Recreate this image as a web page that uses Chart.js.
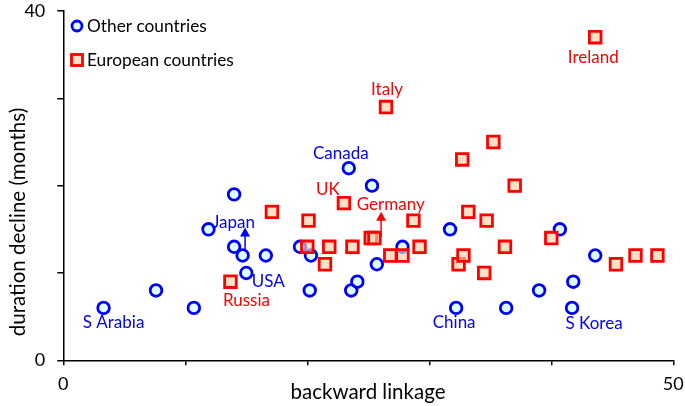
<!DOCTYPE html>
<html>
<head>
<meta charset="utf-8">
<script src="https://cdn.jsdelivr.net/npm/chart.js@4.4.0/dist/chart.umd.min.js"></script>
<style>
  html, body { margin: 0; padding: 0; background: #fff; }
</style>
</head>
<body>
<canvas id="grafico" width="685" height="406"></canvas>
<script>
// Otros paises (circulos azules)
const otrosX = [3.3, 7.6, 10.7, 11.9, 14.0, 14.0, 14.7, 15.0, 16.6, 19.4, 20.3, 20.2, 23.4,
  25.3, 23.6, 24.1, 25.7, 27.8, 31.7, 32.2, 36.3, 39.0, 40.7, 41.8, 41.7, 43.6];
const otrosY = [6, 8, 6, 15, 19, 13, 12, 10, 12, 13, 12, 8, 22,
  20, 8, 9, 11, 13, 15, 6, 6, 8, 15, 9, 6, 12];
const otrosNombres = ['S Arabia', '', '', '', '', '', 'Japan', 'USA', '', '', '', '', 'Canada',
  '', '', '', '', '', '', 'China', '', '', '', '', 'S Korea', ''];

// Paises europeos (cuadrados rojos)
const eurosX = [13.7, 17.1, 20.1, 20.0, 21.8, 21.45, 23.0, 23.7, 25.2, 25.5, 26.8, 27.8, 26.45,
  28.7, 29.2, 32.7, 33.2, 32.4, 32.8, 34.7, 34.5, 35.25, 36.2, 37.0, 40.0, 43.6, 45.3, 46.9, 48.7];
const eurosY = [9, 17, 16, 13, 13, 11, 18, 13, 14, 14, 12, 12, 29,
  16, 13, 23, 17, 11, 12, 16, 10, 25, 13, 20, 14, 37, 11, 12, 12];
const eurosNombres = ['Russia', '', '', '', '', '', 'UK', '', 'Germany', '', '', '', 'Italy',
  '', '', '', '', '', '', '', '', '', '', '', '', 'Ireland', '', '', ''];

const seriesNombres = ['Other countries', 'European countries'];
const xEtiquetas = [0, 50];
const yEtiquetas = [0, 40];

// flechas (Japan, Germany)
const flechaX = [14.9, 26.05];
const flechaDesde = [12.5, 14.1];
const flechaHasta = [15.2, 17.0];

const AZUL = '#0000ff';
const ROJO = '#ff0000';
const FUENTE = 'Lato, "DejaVu Sans", sans-serif';

// desplazamiento del texto respecto al punto (px)
const posEtiquetas = {
  'S Arabia': [10, 15], 'Japan': [-9, -33], 'USA': [22, 9], 'Canada': [-8, -15],
  'China': [-2, 14.5], 'S Korea': [22, 16],
  'Russia': [16, 19], 'UK': [-16, -14], 'Germany': [20, -34], 'Italy': [1, -18], 'Ireland': [-2, 20]
};

const otros = otrosX.map((x, i) => ({ x, y: otrosY[i] }));
const euros = eurosX.map((x, i) => ({ x, y: eurosY[i] }));

const textos = {
  id: 'textos',
  afterDraw(chart) {
    const ctx = chart.ctx;
    const sx = chart.scales.x, sy = chart.scales.y;
    ctx.save();

    // titulos de ejes
    ctx.fillStyle = '#000';
    ctx.font = '20.5px ' + FUENTE;
    ctx.textAlign = 'center';
    ctx.textBaseline = 'middle';
    ctx.fillText('backward linkage', 368, 392);
    ctx.save();
    ctx.translate(18, 222);
    ctx.rotate(-Math.PI / 2);
    ctx.fillText('duration decline (months)', 0, 0);
    ctx.restore();

    // etiquetas de paises
    ctx.font = '17px ' + FUENTE;
    const etiquetar = (nombres, xs, ys, color) => {
      ctx.fillStyle = color;
      nombres.forEach((n, i) => {
        if (!n) return;
        const d = posEtiquetas[n];
        ctx.fillText(n, sx.getPixelForValue(xs[i]) + d[0], sy.getPixelForValue(ys[i]) + d[1]);
      });
    };
    etiquetar(otrosNombres, otrosX, otrosY, AZUL);
    etiquetar(eurosNombres, eurosX, eurosY, ROJO);

    // flechas
    [AZUL, ROJO].forEach((color, i) => {
      const px = sx.getPixelForValue(flechaX[i]);
      const y0 = sy.getPixelForValue(flechaDesde[i]);
      const y1 = sy.getPixelForValue(flechaHasta[i]);
      ctx.strokeStyle = color;
      ctx.fillStyle = color;
      ctx.lineWidth = 1.5;
      ctx.beginPath();
      ctx.moveTo(px, y0);
      ctx.lineTo(px, y1 + 8);
      ctx.stroke();
      ctx.beginPath();
      ctx.moveTo(px, y1);
      ctx.lineTo(px - 5, y1 + 9);
      ctx.lineTo(px + 5, y1 + 9);
      ctx.closePath();
      ctx.fill();
    });

    // leyenda
    ctx.lineWidth = 2.8;
    ctx.strokeStyle = AZUL;
    ctx.fillStyle = 'rgba(200, 255, 255, 0.6)';
    ctx.beginPath();
    ctx.arc(77, 26, 5, 0, Math.PI * 2);
    ctx.fill();
    ctx.stroke();
    ctx.strokeStyle = ROJO;
    ctx.fillStyle = 'rgba(251, 208, 170, 0.65)';
    ctx.fillRect(71.5, 54.5, 11, 11);
    ctx.strokeRect(71.5, 54.5, 11, 11);
    ctx.fillStyle = '#000';
    ctx.font = '17.3px ' + FUENTE;
    ctx.textAlign = 'left';
    ctx.fillText(seriesNombres[0], 87, 26);
    ctx.fillText(seriesNombres[1], 87, 60);
    ctx.restore();
  }
};

new Chart(document.getElementById('grafico'), {
  type: 'scatter',
  data: {
    datasets: [
      {
        label: seriesNombres[0],
        data: otros,
        order: 2,
        pointStyle: 'circle',
        pointRadius: 5.8,
        borderWidth: 2.8,
        borderColor: AZUL,
        backgroundColor: 'rgba(200, 255, 255, 0.6)'
      },
      {
        label: seriesNombres[1],
        data: euros,
        order: 1,
        pointStyle: 'rect',
        pointRadius: 8.2,
        borderWidth: 2.8,
        borderColor: ROJO,
        backgroundColor: 'rgba(251, 208, 170, 0.65)'
      }
    ]
  },
  options: {
    responsive: false,
    animation: false,
    devicePixelRatio: 1,
    layout: { padding: { top: 10, right: 11.7, left: 0, bottom: 0 } },
    plugins: {
      legend: { display: false },
      tooltip: { enabled: false }
    },
    scales: {
      x: {
        type: 'linear',
        min: 0,
        max: 50,
        afterFit: s => { s.height = 45.7; s.paddingLeft = 0; s.paddingRight = 0; },
        border: { color: '#000', width: 1.5 },
        grid: { drawOnChartArea: false, drawTicks: true, tickLength: 5, color: '#000', lineWidth: 1.5 },
        ticks: {
          stepSize: 10,
          padding: 8,
          color: '#000',
          font: { family: FUENTE, size: 18 },
          callback: v => xEtiquetas.includes(v) ? v : ''
        }
      },
      y: {
        type: 'linear',
        min: 0,
        max: 40,
        afterFit: s => { s.width = 63.3; s.paddingTop = 0; s.paddingBottom = 0; },
        border: { color: '#000', width: 1.5 },
        grid: { drawOnChartArea: false, drawTicks: true, tickLength: 6, color: '#000', lineWidth: 1.5 },
        ticks: {
          stepSize: 10,
          padding: 12,
          color: '#000',
          font: { family: FUENTE, size: 18 },
          callback: v => yEtiquetas.includes(v) ? v : ''
        }
      }
    }
  },
  plugins: [textos]
});
</script>
</body>
</html>
